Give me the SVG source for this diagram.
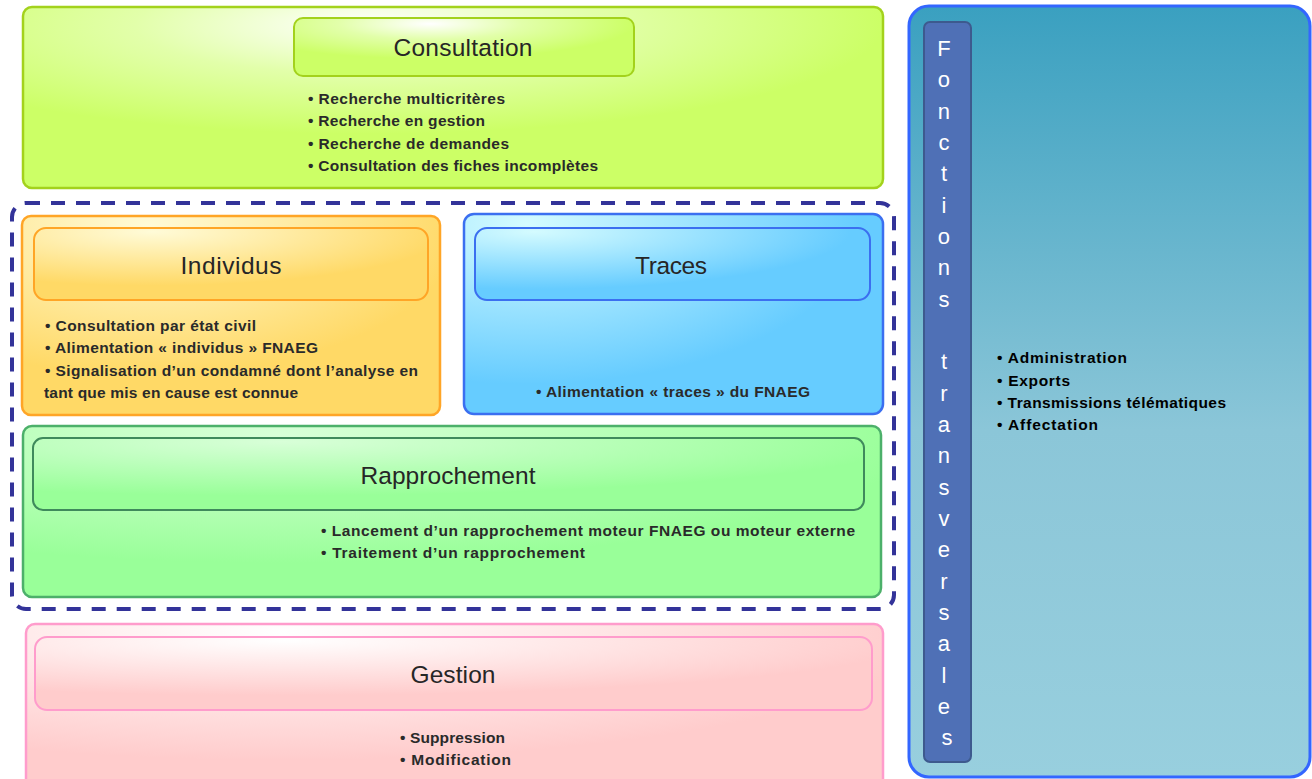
<svg xmlns="http://www.w3.org/2000/svg" width="1312" height="779" viewBox="0 0 1312 779">
  <defs>
    <radialGradient id="gConsult" cx="0.4" cy="0.1" r="0.6">
      <stop offset="0" stop-color="#ffffff"/>
      <stop offset="0.45" stop-color="#e2ffaa"/>
      <stop offset="1" stop-color="#ccff66"/>
    </radialGradient>
    <radialGradient id="gIndiv" cx="0.3" cy="0.05" r="0.75">
      <stop offset="0" stop-color="#fffbd8"/>
      <stop offset="1" stop-color="#ffd966"/>
    </radialGradient>
    <radialGradient id="gTraces" cx="0.15" cy="0.05" r="0.8">
      <stop offset="0" stop-color="#d4fbff"/>
      <stop offset="1" stop-color="#66ccff"/>
    </radialGradient>
    <radialGradient id="gRappro" cx="0.3" cy="0.05" r="0.75">
      <stop offset="0" stop-color="#d8ffd8"/>
      <stop offset="1" stop-color="#99ff99"/>
    </radialGradient>
    <radialGradient id="gGestion" cx="0.3" cy="0.05" r="0.75">
      <stop offset="0" stop-color="#ffffff"/>
      <stop offset="1" stop-color="#ffcccc"/>
    </radialGradient>
    <linearGradient id="gTrans" x1="0" y1="0" x2="0" y2="1">
      <stop offset="0" stop-color="#3aa0c0"/>
      <stop offset="0.55" stop-color="#8bc6d8"/>
      <stop offset="1" stop-color="#98cfde"/>
    </linearGradient>
  </defs>
  <style>
    .title { font-family: "Liberation Sans", Arial, sans-serif; font-size: 24.5px; fill: #262626; text-anchor: middle; }
    .item { font-family: "Liberation Sans", Arial, sans-serif; font-size: 15.5px; font-weight: bold; fill: #2a2a2a; }
    .item-dark { font-family: "Liberation Sans", Arial, sans-serif; font-size: 15.5px; font-weight: bold; fill: #000000; }
    .vert { font-family: "Liberation Sans", Arial, sans-serif; font-size: 22px; fill: #ffffff; text-anchor: middle; }
    .frame { stroke-width: 2.5; }
    .bar { stroke-width: 2; }
  </style>

  <!-- Consultation -->
  <g id="consultation">
    <rect x="23" y="7" width="860" height="181" rx="9" fill="url(#gConsult)" stroke="#a3d21c" class="frame"/>
    <rect x="294" y="18" width="340" height="58" rx="9" fill="url(#gConsult)" stroke="#a3d21c" class="bar"/>
    <text x="463" y="56" class="title" textLength="139">Consultation</text>
    <text x="308" y="104" class="item" textLength="197">• Recherche multicritères</text>
    <text x="308" y="126" class="item" textLength="177">• Recherche en gestion</text>
    <text x="308" y="149" class="item" textLength="201">• Recherche de demandes</text>
    <text x="308" y="171" class="item" textLength="290">• Consultation des fiches incomplètes</text>
  </g>

  <!-- Dashed grouping frame -->
  <g id="connectors">
    <rect x="12" y="203" width="882" height="406" rx="14" fill="none" stroke="#333399" stroke-width="4" stroke-dasharray="14 11"/>
  </g>

  <!-- Individus -->
  <g id="individus">
    <rect x="22" y="216" width="418" height="199" rx="9" fill="url(#gIndiv)" stroke="#ffa526" class="frame"/>
    <rect x="34" y="228" width="394" height="72" rx="12" fill="url(#gIndiv)" stroke="#ffa526" class="bar"/>
    <text x="231" y="274" class="title" textLength="101">Individus</text>
    <text x="45" y="331" class="item" textLength="211">• Consultation par état civil</text>
    <text x="45" y="353" class="item" textLength="273">• Alimentation « individus » FNAEG</text>
    <text x="45" y="376" class="item" textLength="373">• Signalisation d’un condamné dont l’analyse en</text>
    <text x="44" y="398" class="item" textLength="254">tant que mis en cause est connue</text>
  </g>

  <!-- Traces -->
  <g id="traces">
    <rect x="464" y="214" width="419" height="200" rx="10" fill="url(#gTraces)" stroke="#3b6ff0" class="frame"/>
    <rect x="475" y="228" width="395" height="72" rx="12" fill="url(#gTraces)" stroke="#3b6ff0" class="bar"/>
    <text x="671" y="274" class="title" textLength="72">Traces</text>
    <text x="536" y="397" class="item" textLength="274">• Alimentation « traces » du FNAEG</text>
  </g>

  <!-- Rapprochement -->
  <g id="rapprochement">
    <rect x="23" y="426" width="858" height="171" rx="9" fill="url(#gRappro)" stroke="#4cb06a" class="frame"/>
    <rect x="33" y="438" width="831" height="72" rx="10" fill="url(#gRappro)" stroke="#3f8a5c" class="bar"/>
    <text x="448" y="484" class="title" textLength="175">Rapprochement</text>
    <text x="321" y="536" class="item" textLength="534">• Lancement d’un rapprochement moteur FNAEG ou moteur externe</text>
    <text x="321" y="558" class="item" textLength="264">• Traitement d’un rapprochement</text>
  </g>

  <!-- Gestion -->
  <g id="gestion">
    <rect x="26" y="624" width="857" height="170" rx="9" fill="url(#gGestion)" stroke="#ff9ccc" class="frame"/>
    <rect x="35" y="637" width="837" height="73" rx="12" fill="url(#gGestion)" stroke="#ff9ccc" class="bar"/>
    <text x="453" y="683" class="title" textLength="85">Gestion</text>
    <text x="400" y="743" class="item" textLength="105">• Suppression</text>
    <text x="400" y="765" class="item" textLength="111">• Modification</text>
  </g>

  <!-- Fonctions transversales -->
  <g id="fonctions-transversales">
    <rect x="909" y="6" width="401" height="771" rx="20" fill="url(#gTrans)" stroke="#3366ff" stroke-width="3"/>
    <rect x="924" y="22" width="47" height="740" rx="6" fill="#4f70b6" stroke="#3d5a8e" stroke-width="2"/>
    <text class="vert">
      <tspan x="947" y="56">F</tspan>
      <tspan x="947" y="87">o</tspan>
      <tspan x="947" y="119">n</tspan>
      <tspan x="947" y="150">c</tspan>
      <tspan x="947" y="181">t</tspan>
      <tspan x="947" y="213">i</tspan>
      <tspan x="947" y="244">o</tspan>
      <tspan x="947" y="275">n</tspan>
      <tspan x="947" y="307">s</tspan>
      <tspan x="947" y="369">t</tspan>
      <tspan x="947" y="401">r</tspan>
      <tspan x="947" y="432">a</tspan>
      <tspan x="947" y="463">n</tspan>
      <tspan x="947" y="495">s</tspan>
      <tspan x="947" y="526">v</tspan>
      <tspan x="947" y="557">e</tspan>
      <tspan x="947" y="589">r</tspan>
      <tspan x="947" y="620">s</tspan>
      <tspan x="947" y="651">a</tspan>
      <tspan x="947" y="683">l</tspan>
      <tspan x="947" y="714">e</tspan>
      <tspan x="947" y="745">s</tspan>
    </text>
    <text x="997" y="363" class="item-dark" textLength="130">•  Administration</text>
    <text x="997" y="386" class="item-dark" textLength="73">•  Exports</text>
    <text x="997" y="408" class="item-dark" textLength="229">•  Transmissions télématiques</text>
    <text x="997" y="430" class="item-dark" textLength="101">•  Affectation</text>
  </g>
</svg>
